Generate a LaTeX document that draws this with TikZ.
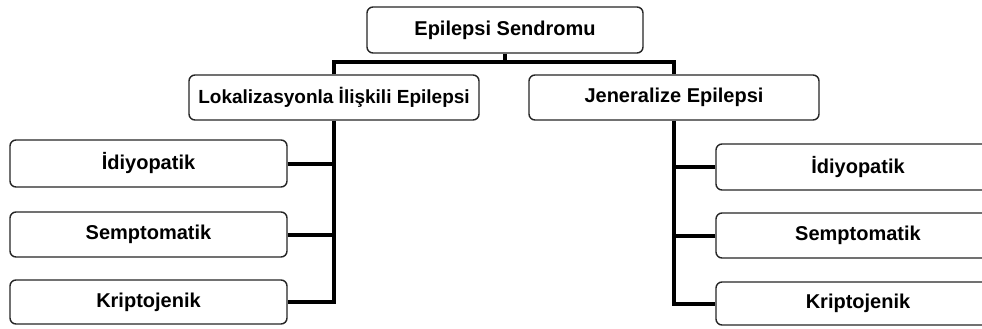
\documentclass[tikz,border=0pt]{standalone}
\usepackage{fontspec}
\setmainfont{Liberation Sans}
\usetikzlibrary{positioning}

\begin{document}
\begin{tikzpicture}[x=1pt,y=-1pt]
        \clip (0,0) rectangle (982,329);
        \fill[white] (0,0) rectangle (982,329);
        \begin{scope}[every node/.style={draw=black!85,line width=1.4pt,rounded corners=6pt,
                fill=white,font=\fontsize{20}{24}\selectfont\bfseries,inner sep=0pt}]
            \node[minimum width=276pt,minimum height=46pt] (ES) at (505,30) {Epilepsi Sendromu};

            \node[minimum width=290pt,minimum height=45pt,font=\fontsize{19}{23}\selectfont\bfseries] (LE) at (334,97.5) {Lokalizasyonla İlişkili Epilepsi};
            \node[minimum width=290pt,minimum height=45pt] (GE) at (674,97.5) {Jeneralize Epilepsi};

            \node[minimum width=277pt,minimum height=47pt] (L1) at (148.5,163.5) {İdiyopatik};
            \node[minimum width=277pt,minimum height=45pt] (L2) at (148.5,234.5) {Semptomatik};
            \node[minimum width=277pt,minimum height=44pt] (L3) at (148.5,302) {Kriptojenik};

            \node[minimum width=284pt,minimum height=46pt] (G1) at (858,167) {İdiyopatik};
            \node[minimum width=284pt,minimum height=45pt] (G2) at (858,235.5) {Semptomatik};
            \node[minimum width=284pt,minimum height=43pt] (G3) at (858,303.5) {Kriptojenik};
        \end{scope}

        \begin{scope}[every path/.style={draw=black,line width=4pt}]
            \coordinate (bar) at (505,62);
            \path (ES.south) -- (bar);
            \path (LE.north) |- (bar) -| (GE.north);

            \path (LE.south) |- (L3.east);
            \path (L1.east) -- (L1.east -| LE.south);
            \path (L2.east) -- (L2.east -| LE.south);

            \path (GE.south) |- (G3.west);
            \path (G1.west) -- (G1.west -| GE.south);
            \path (G2.west) -- (G2.west -| GE.south);
        \end{scope}
    \end{tikzpicture}
\end{document}
